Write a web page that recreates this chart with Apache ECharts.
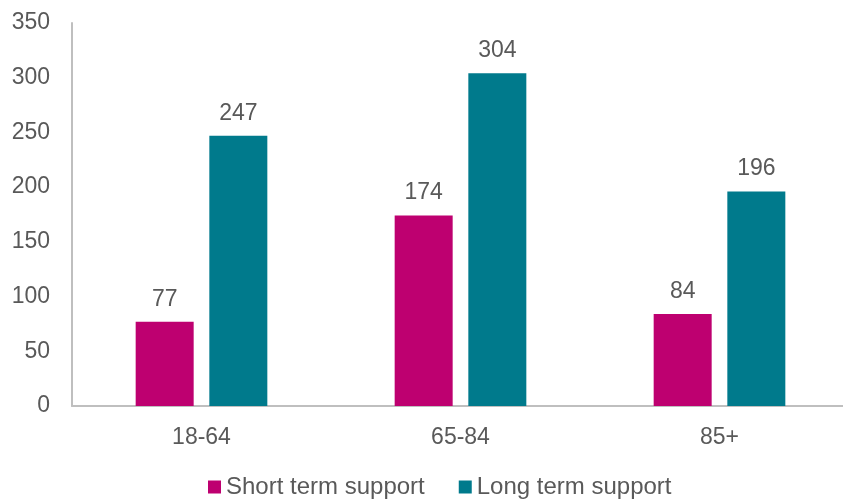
<!DOCTYPE html>
<html>
<head>
<meta charset="utf-8">
<script src="https://cdn.jsdelivr.net/npm/echarts@6/dist/echarts.min.js"></script>
<style>
  html, body { margin: 0; padding: 0; background: #ffffff; }
  #chart { width: 843px; height: 499px; }
</style>
</head>
<body>
<div id="chart"></div>
<script>
// Age groups on the x axis
const categories = ['18-64', '65-84', '85+'];
// Number of people receiving each kind of support
const shortTerm = [77, 174, 84];
const longTerm = [247, 304, 196];
// Value axis ticks
const yTicks = [0, 50, 100, 150, 200, 250, 300, 350];

const textColor = '#595959';
const fontFamily = 'Liberation Sans, Arial, sans-serif';

const chart = echarts.init(document.getElementById('chart'), null, { renderer: 'canvas' });

const labelStyle = {
  show: true,
  position: 'top',
  distance: 11,
  color: textColor,
  fontSize: 23,
  fontFamily: fontFamily
};

chart.setOption({
  animation: false,
  backgroundColor: '#ffffff',
  // plot area runs slightly past the right edge of the canvas
  grid: {
    left: 72, width: 777, top: 23, bottom: 93,
    containLabel: false,
    outerBoundsMode: 'none'
  },
  legend: {
    top: 475,
    left: 208,
    padding: 0,
    icon: 'rect',
    itemWidth: 13,
    itemHeight: 13,
    itemGap: 34,
    textStyle: { color: textColor, fontSize: 24, fontFamily: fontFamily },
    data: ['Short term support', 'Long term support']
  },
  xAxis: {
    type: 'category',
    data: categories,
    axisLine: { show: true, lineStyle: { color: '#bfbfbf', width: 2 } },
    axisTick: { show: false },
    axisLabel: { color: textColor, fontSize: 23, fontFamily: fontFamily, margin: 20 }
  },
  yAxis: {
    type: 'value',
    min: yTicks[0],
    max: yTicks[yTicks.length - 1],
    interval: 50,
    axisLine: { show: true, lineStyle: { color: '#bfbfbf', width: 2 } },
    axisTick: { show: false },
    splitLine: { show: false },
    axisLabel: { color: textColor, fontSize: 23, fontFamily: fontFamily, margin: 22 }
  },
  series: [
    {
      name: 'Short term support',
      type: 'bar',
      data: shortTerm,
      barWidth: 58,
      barGap: '27%',
      itemStyle: { color: '#be0070' },
      label: labelStyle
    },
    {
      name: 'Long term support',
      type: 'bar',
      data: longTerm,
      barWidth: 58,
      itemStyle: { color: '#007a8c' },
      label: labelStyle
    }
  ]
});
</script>
</body>
</html>
